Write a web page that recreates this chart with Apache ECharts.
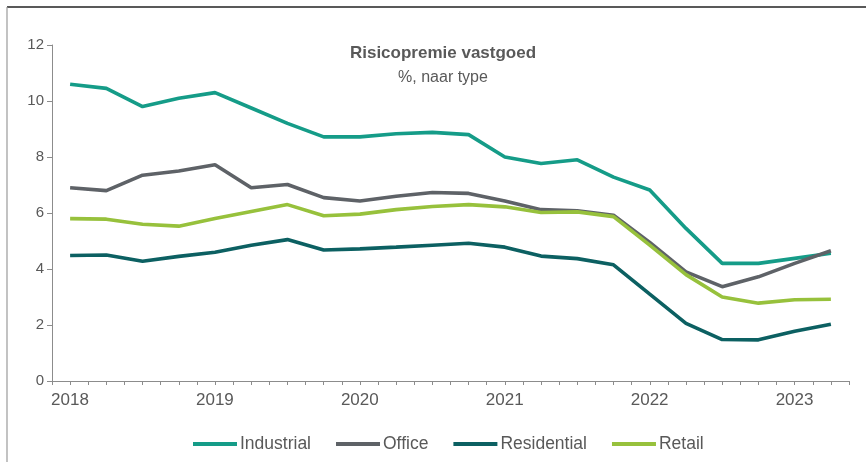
<!DOCTYPE html>
<html>
<head>
<meta charset="utf-8">
<script src="https://cdn.jsdelivr.net/npm/echarts@6/dist/echarts.min.js"></script>
<style>
html,body{margin:0;padding:0;background:#fff;}
#chart{width:866px;height:462px;}
</style>
</head>
<body>
<div id="chart"></div>
<script>
// Quarterly data, 2018 Q1 .. 2023 Q2
const quarters = ['2018K1','2018K2','2018K3','2018K4','2019K1','2019K2','2019K3','2019K4',
  '2020K1','2020K2','2020K3','2020K4','2021K1','2021K2','2021K3','2021K4',
  '2022K1','2022K2','2022K3','2022K4','2023K1','2023K2'];
const yearLabels = ['2018','2019','2020','2021','2022','2023'];
const industrial  = [10.6,10.45,9.8,10.1,10.3,9.75,9.2,8.72,8.72,8.83,8.88,8.8,8.0,7.77,7.9,7.28,6.82,5.45,4.2,4.2,4.38,4.56];
const office      = [6.9,6.8,7.35,7.5,7.72,6.9,7.02,6.55,6.43,6.6,6.73,6.7,6.43,6.12,6.08,5.92,4.95,3.9,3.37,3.72,4.2,4.65];
const residential = [4.48,4.5,4.28,4.45,4.6,4.85,5.05,4.68,4.72,4.78,4.85,4.92,4.78,4.46,4.37,4.15,3.1,2.06,1.48,1.47,1.78,2.03];
const retail      = [5.8,5.78,5.6,5.53,5.8,6.05,6.3,5.9,5.96,6.12,6.23,6.3,6.22,6.02,6.04,5.87,4.85,3.8,3.0,2.78,2.9,2.92];
const yTicks = [0,2,4,6,8,10,12];

const seriesNames = ['Industrial','Office','Residential','Retail'];
const seriesData = [industrial, office, residential, retail];
const colors = ['#159c88','#5e6267','#0c6062','#97c13c'];

// x position: quarter i sits at 2*i+1 on a half-quarter scale (ticks every half quarter)
function xPos(i) { return 2 * i + 1; }

const chart = echarts.init(document.getElementById('chart'), null, {renderer:'canvas'});
const font = '"Liberation Sans", Arial, sans-serif';
const option = {
  animation: false,
  backgroundColor: '#ffffff',
  color: colors,
  title: {
    text: 'Risicopremie vastgoed',
    subtext: '%, naar type',
    left: 438, textAlign: 'center',
    top: 40,
    itemGap: 8,
    textStyle: {fontFamily: font, fontSize: 17, fontWeight: 'bold', color: '#595959'},
    subtextStyle: {fontFamily: font, fontSize: 16, color: '#595959'}
  },
  legend: {
    bottom: 4,
    left: 188,
    icon: 'rect',
    itemWidth: 44,
    itemHeight: 4,
    itemGap: 25,
    textStyle: {fontFamily: font, fontSize: 17.5, color: '#595959', padding: [0,0,0,-2]},
    data: seriesNames
  },
  grid: {left: 52, right: 17, top: 45, bottom: 81, containLabel: false},
  xAxis: {
    type: 'value',
    min: 0, max: 2 * quarters.length, interval: 2,
    axisLine: {show: true, lineStyle: {color: '#8c8c8c', width: 1}},
    axisTick: {show: true, length: 4, lineStyle: {color: '#8c8c8c', width: 1}},
    minorTick: {show: true, splitNumber: 2, length: 4, lineStyle: {color: '#8c8c8c', width: 1}},
    splitLine: {show: false},
    axisLabel: {
      fontFamily: font, fontSize: 17, color: '#595959', margin: 11,
      showMinLabel: true, showMaxLabel: false,
      // year label sits under the first quarter (one half-quarter step right of the tick)
      padding: [0, 0, 0, 36],
      formatter: function (v) {
        const r = Math.round(v);
        if (r % 8 === 0) return yearLabels[r / 8] || '';
        return '';
      }
    }
  },
  yAxis: {
    type: 'value',
    min: yTicks[0], max: yTicks[yTicks.length-1], interval: 2,
    axisLine: {show: true, lineStyle: {color: '#8c8c8c', width: 1}},
    axisTick: {show: true, length: 5, lineStyle: {color: '#8c8c8c'}},
    splitLine: {show: false},
    axisLabel: {fontFamily: font, fontSize: 15, color: '#595959', margin: 8}
  },
  series: seriesNames.map(function (name, k) {
    return {
      name: name, type: 'line', symbol: 'none', smooth: false,
      lineStyle: {width: 3.6, color: colors[k]},
      itemStyle: {color: colors[k]},
      data: seriesData[k].map(function (v, i) { return [xPos(i), v]; })
    };
  }),
  graphic: [
    {type: 'line', shape: {x1: 7, y1: 7, x2: 866, y2: 7}, style: {stroke: '#222', lineWidth: 1.5}, silent: true},
    {type: 'line', shape: {x1: 7, y1: 7, x2: 7, y2: 462}, style: {stroke: '#9a9a9a', lineWidth: 1.2}, silent: true}
  ]
};
chart.setOption(option);
</script>
</body>
</html>
